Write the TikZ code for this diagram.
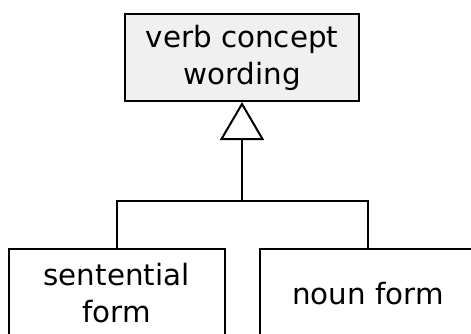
\documentclass[tikz,border=0pt]{standalone}
\usepackage{fontspec}
\setmainfont{DejaVu Sans}
\usetikzlibrary{arrows.meta}
\definecolor{boxgray}{HTML}{F0F0F0}
\begin{document}
\begin{tikzpicture}[
    x=0.75pt, y=-0.75pt,
    concept/.style={rectangle, draw, line width=1.5pt, inner sep=0pt, align=center,
        font=\fontsize{22}{27.75}\selectfont}, % Стиль для понятий
    general/.style={concept, fill=boxgray, minimum width=234*0.75pt, minimum height=87*0.75pt}, % Общее понятие
    special/.style={concept, minimum width=216*0.75pt, minimum height=89*0.75pt}, % Частные понятия
    link/.style={line width=1.5pt}, % Стиль для линий
    genarrow/.style={link, -{Triangle[open, length=28.5pt, width=33pt]}} % Стрелка обобщения
]
    \clip (0,0) rectangle (471,333);

    % Узлы
    \node[general] (wording) at (242, 57.5) {verb concept\\wording};
    \node[special] (sentential) at (116.5, 293.5) {sentential\\form};
    \node[special] (noun) at (368, 293.5) {noun form};
    \coordinate (join) at (242, 201);

    % Рёбра
    \draw[link] (sentential.north) |- (join) -| (noun.north);
    \draw[genarrow] (join) -- (wording.south);

\end{tikzpicture}
\end{document}
